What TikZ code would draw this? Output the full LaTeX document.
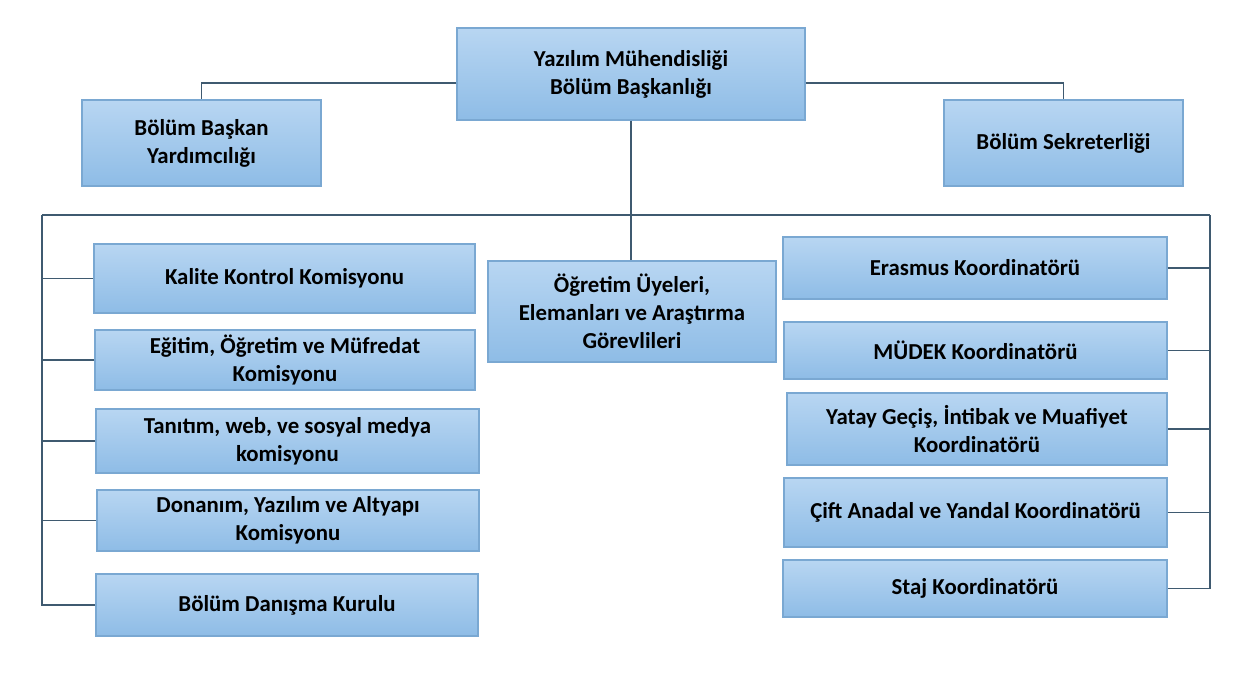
\documentclass[tikz,border=0pt]{standalone}
\usepackage{fontspec}
\setmainfont{Carlito}
\definecolor{boxTop}{HTML}{B8D6F2}
\definecolor{boxBottom}{HTML}{8EBCE6}
\definecolor{boxBorder}{HTML}{7AA8D2}
\definecolor{linkLine}{HTML}{3F5A70}
\begin{document}
\begin{tikzpicture}[x=0.02cm,y=-0.02cm,
unit/.style={draw=boxBorder,line width=0.6pt,top color=boxTop,bottom color=boxBottom,
  font=\fontsize{13}{16}\selectfont\bfseries,align=center,inner sep=0pt},
boxsize/.style 2 args={minimum width=#1*0.02cm,minimum height=#2*0.02cm},
link/.style={draw=linkLine,line width=1.1pt}]
\path[use as bounding box] (0,0) rectangle (1248,676);
% top level
\node[unit,boxsize={348}{92}] (head) at (631,74) {Yazılım Mühendisliği\\Bölüm Başkanlığı};
\node[unit,boxsize={239}{86}] (vice) at (201.5,143) {Bölüm Başkan\\Yardımcılığı};
\node[unit,boxsize={239}{86}] (secretary) at (1063.5,143) {Bölüm Sekreterliği};
\node[unit,boxsize={288}{101}] (staff) at (632,311.5) {Öğretim Üyeleri,\\Elemanları ve Araştırma\\Görevlileri};
% commissions
\node[unit,boxsize={381}{69}] (quality) at (284.5,278.5) {Kalite Kontrol Komisyonu};
\node[unit,boxsize={380}{60}] (curriculum) at (285,360) {Eğitim, Öğretim ve Müfredat\\Komisyonu};
\node[unit,boxsize={383}{64}] (promotion) at (287.5,441) {Tanıtım, web, ve sosyal medya\\komisyonu};
\node[unit,boxsize={382}{61}] (hardware) at (288,520.5) {Donanım, Yazılım ve Altyapı\\Komisyonu};
\node[unit,boxsize={382}{62}] (advisory) at (287,605) {Bölüm Danışma Kurulu};
% coordinators
\node[unit,boxsize={384}{62}] (erasmus) at (975,268) {Erasmus Koordinatörü};
\node[unit,boxsize={383}{57}] (mudek) at (975.5,350.5) {MÜDEK Koordinatörü};
\node[unit,boxsize={380}{72}] (transfer) at (977,429) {Yatay Geçiş, İntibak ve Muafiyet\\Koordinatörü};
\node[unit,boxsize={383}{69}] (minor) at (975.5,512.5) {Çift Anadal ve Yandal Koordinatörü};
\node[unit,boxsize={384}{57}] (internship) at (975,588.5) {Staj Koordinatörü};
% connectors
\coordinate (busL) at (42,215);
\coordinate (busR) at (1210,215);
\draw[link] ([yshift=-0.18cm]head.west) -| (vice.north);
\draw[link] ([yshift=-0.18cm]head.east) -| (secretary.north);
\draw[link] (head.south) -- (head.south |- staff.north);
\draw[link] (busL) -- (busR);
\draw[link] (busL) |- (advisory.west);
\draw[link] (busR) |- (internship.east);
\draw[link] (quality.west) -- (quality.west -| busL);
\draw[link] (curriculum.west) -- (curriculum.west -| busL);
\draw[link] (promotion.west) -- (promotion.west -| busL);
\draw[link] (hardware.west) -- (hardware.west -| busL);
\draw[link] (erasmus.east) -- (erasmus.east -| busR);
\draw[link] (mudek.east) -- (mudek.east -| busR);
\draw[link] (transfer.east) -- (transfer.east -| busR);
\draw[link] (minor.east) -- (minor.east -| busR);
\end{tikzpicture}
\end{document}
